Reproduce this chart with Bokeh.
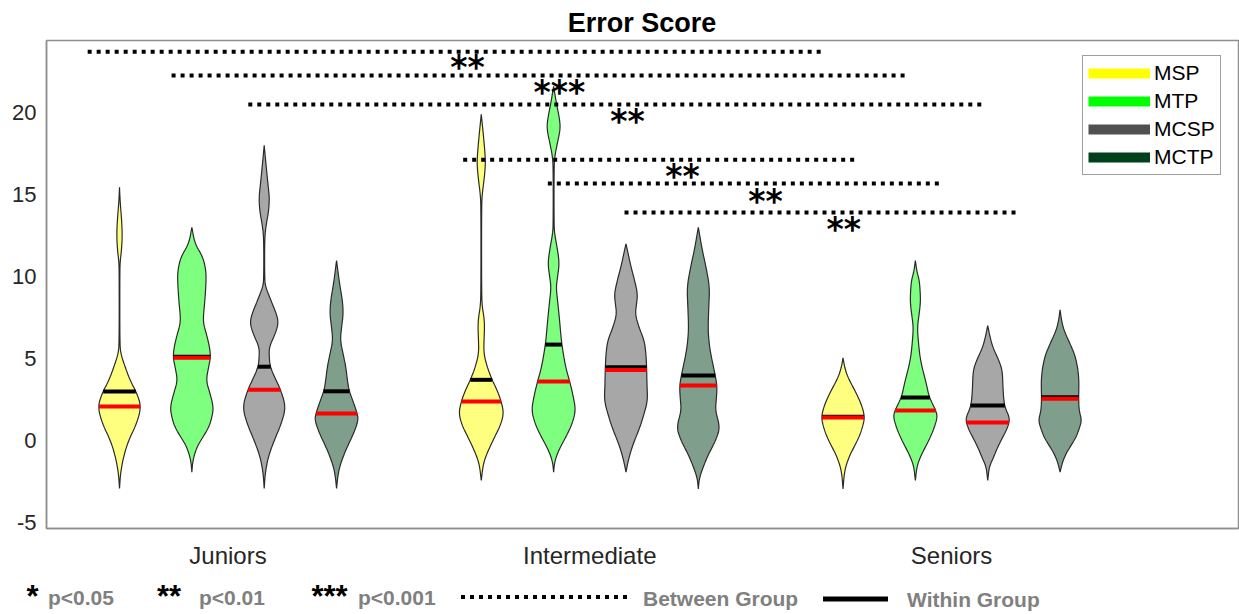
import numpy as np
from bokeh.plotting import figure
from bokeh.models import Range1d, FixedTicker, Legend, LegendItem, Div
from bokeh.layouts import column
from bokeh.embed import file_html
from bokeh.resources import INLINE
from bokeh.core.properties import value

# ---------------- data ----------------
groups = ["Juniors", "Intermediate", "Seniors"]
conditions = ["MSP", "MTP", "MCSP", "MCTP"]
title_text = "Error Score"

# violin outlines: y values (top -> bottom) and relative density (max ~22)
jun_msp_y = [15.45, 14.6, 13.4, 12.5, 11.6, 10.9, 10.2, 6.0, 5.3, 4.47, 3.66, 2.84, 2.03, 1.0, 0.0, -1.0, -2.0, -2.93]
jun_msp_w = [0, 0.6, 2.2, 2.8, 2.0, 0.6, 0.3, 0.3, 1.2, 5.7, 10.7, 17.7, 21.7, 17, 9, 4, 1, 0]
jun_mtp_y = [13.0, 12.0, 11.2, 10.4, 9.76, 8.5, 7.6, 7.1, 6.4, 5.7, 5.08, 4.4, 3.66, 2.9, 2.03, 1.4, 0.81, 0.2, -0.4, -1.2, -1.93]
jun_mtp_w = [0, 3, 11, 14, 14.3, 13, 11.5, 11.7, 15, 17.7, 18.8, 16.5, 14.3, 18, 21.7, 20, 17, 11, 5, 1, 0]
jun_mcsp_y = [18.0, 16.7, 15.5, 14.8, 14.0, 13.0, 12.2, 9.8, 9.35, 8.5, 7.6, 7.1, 6.5, 5.7, 5.1, 4.47, 3.66, 3.05, 2.03, 1.0, 0.0, -1.0, -2.0, -2.93]
jun_mcsp_w = [0, 2, 4, 5.2, 4.5, 1.5, 0.4, 0.4, 1.5, 7, 13, 14, 11, 5, 5, 6, 12, 16.7, 21.7, 17, 10, 4, 1, 0]
jun_mctp_y = [10.98, 9.55, 8.5, 7.7, 6.9, 6.1, 5.3, 4.47, 3.6, 3.05, 2.3, 1.63, 1.22, 0.41, -0.6, -1.6, -2.3, -2.93]
jun_mctp_w = [0, 3, 6, 6.7, 5, 3.7, 6.5, 9.3, 11, 12.5, 17, 20.8, 21.7, 17, 9, 3, 1, 0]

int_msp_y = [19.9, 18.7, 17.7, 16.9, 16.0, 15.05, 14.3, 9.0, 8.13, 7.5, 6.9, 6.2, 5.3, 4.47, 3.7, 3.05, 2.34, 1.63, 0.9, 0.41, -0.6, -1.4, -2.44]
int_msp_w = [0, 2, 3.5, 4.3, 3, 1, 0.3, 0.3, 1, 2.8, 3.3, 2.8, 2.5, 6, 10.8, 16, 20.2, 22.5, 19, 15, 7, 2, 0]
int_mtp_y = [21.6, 20.5, 19.6, 19.0, 18.2, 17.3, 16.5, 13.2, 12.6, 11.6, 10.8, 10.0, 9.35, 8.5, 7.5, 6.6, 5.8, 4.47, 3.56, 2.6, 1.83, 1.1, 0.41, -0.6, -1.3, -1.93]
int_mtp_w = [0, 3, 6, 6.7, 4, 1, 0.4, 0.4, 1, 4, 5.7, 4, 2.5, 4, 5.7, 7, 8.3, 12, 16.3, 20, 22, 19, 14, 5, 1, 0]
int_mcsp_y = [12.0, 11.3, 10.6, 9.8, 8.94, 8.3, 7.7, 6.9, 6.1, 5.3, 4.4, 3.4, 2.44, 1.6, 0.81, -0.4, -1.3, -1.93]
int_mcsp_w = [0, 2.5, 5, 8.5, 11.7, 10.5, 9.3, 13, 18.3, 20, 20.7, 21, 21.7, 18, 14, 6, 2, 0]
int_mctp_y = [13.0, 12.3, 11.6, 10.5, 9.35, 8.2, 6.9, 6.1, 5.3, 3.96, 3.29, 2.5, 1.83, 0.81, 0.1, -0.4, -1.0, -1.6, -2.3, -2.95]
int_mctp_w = [0, 2, 4, 8, 11.3, 10.5, 9.7, 10.5, 12.3, 17, 18.8, 18, 17, 21.7, 18, 14, 9, 5, 1, 0]

sen_msp_y = [5.04, 4.5, 3.86, 2.84, 2.1, 1.42, 0.8, 0.2, -0.4, -1.0, -1.83, -2.95]
sen_msp_w = [0, 1.5, 4.7, 13.7, 19, 21.7, 19.5, 16, 11, 6, 1.5, 0]
sen_mtp_y = [10.98, 10.3, 9.76, 8.9, 8.33, 7.6, 6.9, 6.0, 4.88, 3.46, 2.64, 1.83, 1.42, 0.8, 0.2, -0.4, -1.0, -1.6, -2.44]
sen_mtp_w = [0, 1.5, 4, 5, 5, 3.5, 2, 3, 5, 11, 13.8, 20.5, 22, 19, 15, 10, 5, 1.5, 0]
sen_mcsp_y = [7.01, 6.4, 5.69, 4.9, 4.27, 3.05, 2.09, 1.42, 1.06, 0.6, 0.2, -0.4, -1.0, -1.6, -2.44]
sen_mcsp_w = [0, 2, 5, 11, 14.7, 15.3, 16.7, 21.7, 21.3, 18.5, 15, 10, 6, 1.5, 0]
sen_mctp_y = [7.97, 7.3, 6.7, 5.9, 5.08, 3.86, 2.58, 1.83, 1.22, 0.7, 0.2, -0.3, -0.8, -1.3, -1.93]
sen_mctp_w = [0, 1.5, 4, 10, 15.7, 19, 18.5, 19, 21.7, 19, 16, 11, 6, 2.5, 0]

# means (black) and medians (red) per group, in condition order
mean_jun = [2.99, 5.10, 4.50, 3.00]
median_jun = [2.07, 5.05, 3.10, 1.65]
mean_int = [3.70, 5.85, 4.47, 3.96]
median_int = [2.38, 3.60, 4.30, 3.35]
mean_sen = [1.45, 2.62, 2.13, 2.64]
median_sen = [1.40, 1.83, 1.10, 2.55]

# between-group significance bars
sig_start = [0.56, 1.72, 2.78, 5.75, 6.92, 7.98]
sig_end = [10.73, 11.90, 12.97, 11.21, 12.37, 13.45]
sig_level = [23.72, 22.27, 20.49, 17.13, 15.67, 13.90]
sig_stars = ["**", "***", "**", "**", "**", "**"]
star_x = [5.81, 7.08, 8.02, 8.78, 9.93, 11.01]
star_y = [22.99, 21.46, 19.70, 16.34, 14.82, 13.11]

y_ticks = [-5, 0, 5, 10, 15, 20]

# key below the chart
key_star_text = ["*", "**", "***"]
key_p_text = ["p<0.05", "p<0.01", "p<0.001"]
key_line_text = ["Between Group", "Within Group"]

# ---------------- styling ----------------
legend_colors = ["#FFFF00", "#00FF00", "#505050", "#00401A"]
AX_COL = "#8f8f8f"
TXT_COL = "#262626"
HALF = 0.304 / 22.0   # data units per density unit

profiles = [
    [(jun_msp_y, jun_msp_w), (jun_mtp_y, jun_mtp_w), (jun_mcsp_y, jun_mcsp_w), (jun_mctp_y, jun_mctp_w)],
    [(int_msp_y, int_msp_w), (int_mtp_y, int_mtp_w), (int_mcsp_y, int_mcsp_w), (int_mctp_y, int_mctp_w)],
    [(sen_msp_y, sen_msp_w), (sen_mtp_y, sen_mtp_w), (sen_mcsp_y, sen_mcsp_w), (sen_mctp_y, sen_mctp_w)],
]
means = [mean_jun, mean_int, mean_sen]
medians = [median_jun, median_int, median_sen]


def chaikin(pts, n=3):
    for _ in range(n):
        q = 0.75 * pts[:-1] + 0.25 * pts[1:]
        r = 0.25 * pts[:-1] + 0.75 * pts[1:]
        mid = np.empty((2 * len(q), 2))
        mid[0::2] = q
        mid[1::2] = r
        pts = np.vstack([pts[:1], mid, pts[-1:]])
    return pts


p = figure(width=1239, height=536, x_range=Range1d(-0.009, 16.466), y_range=Range1d(-5.37, 24.4),
           output_backend="svg", toolbar_location=None,
           min_border_left=46, min_border_right=1, min_border_top=2, min_border_bottom=46)
p.grid.visible = False
p.background_fill_color = "white"
p.border_fill_color = "white"
p.outline_line_color = AX_COL
p.outline_line_width = 1.5

# axes
p.yaxis.ticker = FixedTicker(ticks=y_ticks)
p.yaxis.major_label_overrides = {t: str(t) for t in y_ticks}
p.xaxis.ticker = FixedTicker(ticks=[2.5, 7.5, 12.5])
p.xaxis.major_label_overrides = {2.5: groups[0], 7.5: groups[1], 12.5: groups[2]}
for ax in (p.xaxis, p.yaxis):
    ax.axis_line_color = AX_COL
    ax.axis_line_width = 1.5
    ax.major_tick_line_color = None
    ax.minor_tick_line_color = None
    ax.major_tick_out = 0
    ax.major_tick_in = 0
    ax.major_label_text_color = TXT_COL
    ax.major_label_text_font = "Liberation Sans"
p.yaxis.major_label_text_font_size = "22px"
p.yaxis.major_label_standoff = 10
p.xaxis.major_label_text_font_size = "24px"
p.xaxis.major_label_standoff = 13

# violins
for g in range(3):
    for c in range(4):
        ys, ws = profiles[g][c]
        xc = g * 5 + c + 1
        pts = chaikin(np.column_stack([np.array(ws, float), np.array(ys, float)]))
        half = pts[:, 0] * HALF
        yy = pts[:, 1]
        xs = np.concatenate([xc + half, (xc - half)[::-1]])
        ysp = np.concatenate([yy, yy[::-1]])
        p.patch(xs, ysp, fill_color=legend_colors[c], fill_alpha=0.5,
                line_color="#2a2a2a", line_width=1.2)
        for val, col in ((means[g][c], "black"), (medians[g][c], "red")):
            hw = np.interp(val, yy[::-1], half[::-1])
            p.segment(x0=[xc - hw], y0=[val], x1=[xc + hw], y1=[val],
                      line_color=col, line_width=4)

# significance bars
p.segment(x0=sig_start, y0=sig_level, x1=sig_end, y1=sig_level, line_color="black",
          line_width=4, line_dash="4 5", line_cap="butt")
p.text(x=star_x, y=star_y, text=sig_stars, text_font=value("DejaVu Sans"), text_font_style="bold",
       text_font_size="33px", text_align="center", text_baseline="middle", text_color="black",
       y_offset=4)

# legend (renderers hold points far outside the visible range)
items = []
for c, name in enumerate(conditions):
    r = p.line(x=[-50, -49], y=[-100, -100], line_color=legend_colors[c], line_width=10)
    items.append(LegendItem(label=name, renderers=[r]))
legend = Legend(items=items, location=(1036, 353), glyph_width=62, glyph_height=24,
                label_height=24, spacing=4, padding=5, margin=0, label_standoff=4,
                border_line_color="#404040", border_line_width=1,
                label_text_font="Liberation Sans", label_text_font_size="21px",
                label_text_color="black", background_fill_color="white")
p.add_layout(legend)

# ---------------- title strip ----------------
title_svg = (
    '<svg xmlns="http://www.w3.org/2000/svg" width="1239" height="38" style="display:block">'
    f'<text x="642" y="32" text-anchor="middle" font-family="Liberation Sans" font-weight="bold" '
    f'font-size="27px" fill="black">{title_text}</text></svg>'
)
top = Div(text=title_svg, width=1239, height=38, margin=0)

# ---------------- key strip ----------------
star_cx = [32.5, 169, 329.5]
p_lx = [48, 199, 358]
parts = ['<svg xmlns="http://www.w3.org/2000/svg" width="1239" height="40" style="display:block">']
for sx, st in zip(star_cx, key_star_text):
    parts.append(f'<text x="{sx}" y="33" text-anchor="middle" font-family="DejaVu Sans" '
                 f'font-weight="bold" font-size="31px" fill="black">{st}</text>')
for lx, pt in zip(p_lx, key_p_text):
    pt_html = pt.replace("<", "&lt;")
    parts.append(f'<text x="{lx}" y="31" font-family="Lato" font-weight="bold" font-size="21px" '
                 f'fill="#808080">{pt_html}</text>')
parts.append('<line x1="461" y1="23" x2="630" y2="23" stroke="black" stroke-width="4" '
             'stroke-dasharray="4 5"/>')
parts.append(f'<text x="643" y="32" font-family="Lato" font-weight="bold" font-size="21px" '
             f'fill="#808080">{key_line_text[0]}</text>')
parts.append('<line x1="823" y1="25" x2="888" y2="25" stroke="black" stroke-width="5"/>')
parts.append(f'<text x="907" y="33" font-family="Lato" font-weight="bold" font-size="21px" '
             f'fill="#808080">{key_line_text[1]}</text>')
parts.append('</svg>')
key = Div(text="".join(parts), width=1239, height=40, margin=0)

layout = column(top, p, key, spacing=0)
open("out.html", "w").write(file_html(layout, INLINE))
